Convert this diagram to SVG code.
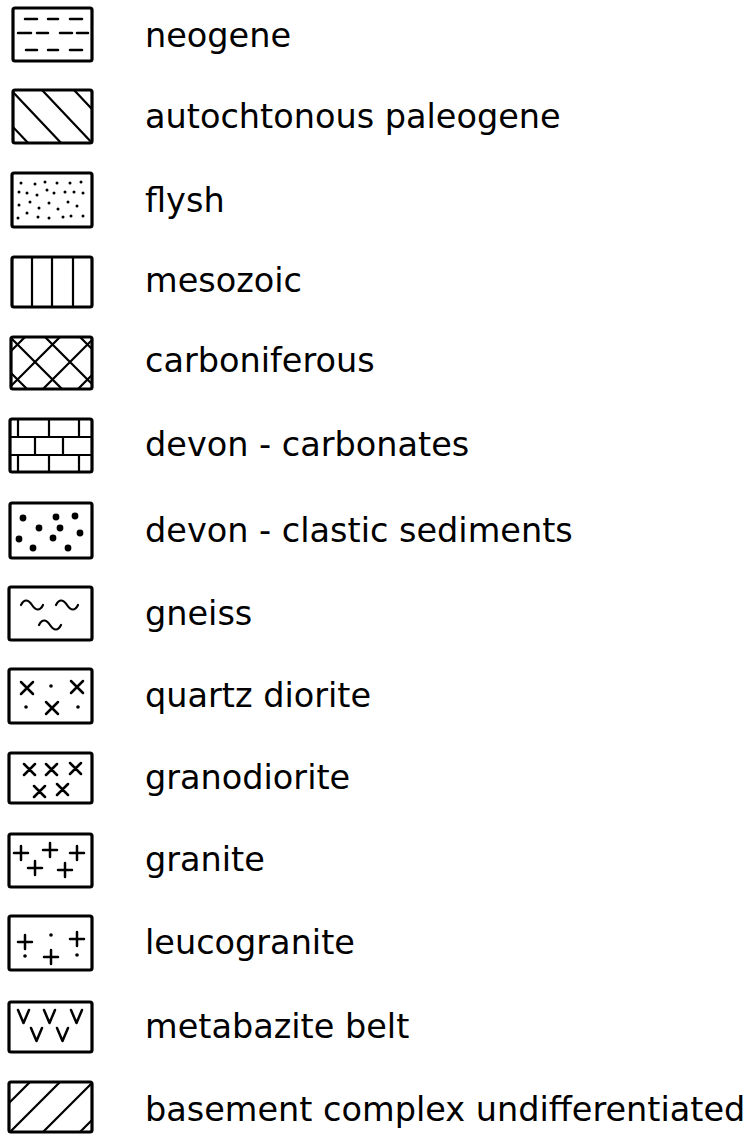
<svg xmlns="http://www.w3.org/2000/svg" width="753" height="1136" viewBox="0 0 753 1136">
<style>
.box{fill:none;stroke:#000;stroke-width:3.2;stroke-linejoin:round}
.ln{fill:none;stroke:#000;stroke-width:2.2;stroke-linecap:round;stroke-linejoin:round}
.sy{fill:none;stroke:#000;stroke-width:2.5;stroke-linecap:round;stroke-linejoin:round}
.lbl{font-family:"DejaVu Sans",sans-serif;font-size:33.5px;fill:#000}
.d{fill:#000}
</style>
<defs>
<clipPath id="c2"><rect x="13" y="90" width="79" height="53"/></clipPath>
<clipPath id="c5"><rect x="11" y="337" width="81" height="52"/></clipPath>
<clipPath id="c14"><rect x="9" y="1082" width="83" height="50"/></clipPath>
<path id="tl" d="M0,0 c3,-6 7,-6 11,0 s8,6 11,0"/>
</defs>
<rect width="753" height="1136" fill="#fff"/>

<g id="neogene">
<rect class="box" x="13" y="8" width="79" height="53" rx="2"/>
<path class="sy" d="M25,19H37M48,19H58M70,19H82M18,33H31M37,33H48M60,33H72M77,33H88M26,50H37M48,50H58M70,50H82"/>
<text class="lbl" x="145" y="47">neogene</text>
</g>

<g id="autochtonous-paleogene">
<g clip-path="url(#c2)">
<path class="ln" d="M-22,90l52,55M11,90l52,55M42,90l52,55M74,90l52,55"/>
</g>
<rect class="box" x="13" y="90" width="79" height="53" rx="2"/>
<text class="lbl" x="145" y="128">autochtonous paleogene</text>
</g>

<g id="flysh">
<rect class="box" x="12" y="173" width="80" height="54" rx="2"/>
<g class="d">
<circle cx="21" cy="183" r="1.5"/><circle cx="35" cy="184" r="1.5"/><circle cx="45" cy="182" r="1.5"/><circle cx="57" cy="183" r="1.5"/><circle cx="70" cy="183" r="1.5"/><circle cx="81" cy="182" r="1.5"/>
<circle cx="19" cy="192" r="1.5"/><circle cx="27" cy="193" r="1.5"/><circle cx="37" cy="195" r="1.5"/><circle cx="47" cy="190" r="1.5"/><circle cx="54" cy="193" r="1.5"/><circle cx="65" cy="192" r="1.5"/><circle cx="74" cy="192" r="1.5"/><circle cx="83" cy="193" r="1.5"/>
<circle cx="19" cy="205" r="1.5"/><circle cx="30" cy="202" r="1.5"/><circle cx="39" cy="208" r="1.5"/><circle cx="49" cy="203" r="1.5"/><circle cx="58" cy="209" r="1.5"/><circle cx="68" cy="202" r="1.5"/><circle cx="77" cy="206" r="1.5"/>
<circle cx="18" cy="218" r="1.5"/><circle cx="27" cy="213" r="1.5"/><circle cx="38" cy="217" r="1.5"/><circle cx="49" cy="218" r="1.5"/><circle cx="63" cy="217" r="1.5"/><circle cx="71" cy="216" r="1.5"/><circle cx="83" cy="216" r="1.5"/>
</g>
<text class="lbl" x="145" y="212">flysh</text>
</g>

<g id="mesozoic">
<rect class="box" x="12" y="257" width="80" height="50" rx="2"/>
<path class="ln" d="M32,257V307M52,257V307M73,257V307"/>
<text class="lbl" x="145" y="292">mesozoic</text>
</g>

<g id="carboniferous">
<g clip-path="url(#c5)">
<path class="ln" d="M0,362L100,262M0,397L100,297M0,432L100,332M0,467L100,367M0,257L100,357M0,292L100,392M0,327L100,427M0,362L100,462"/>
</g>
<rect class="box" x="11" y="337" width="81" height="52" rx="2"/>
<text class="lbl" x="145" y="372">carboniferous</text>
</g>

<g id="devon-carbonates">
<rect class="box" x="10" y="419" width="82" height="53" rx="2"/>
<path class="ln" d="M10,437H92M10,455H92M18,419V437M49,419V437M79,419V437M35,437V455M63,437V455M18,455V472M49,455V472M79,455V472"/>
<text class="lbl" x="145" y="456">devon - carbonates</text>
</g>

<g id="devon-clastic-sediments">
<rect class="box" x="10" y="503" width="82" height="55" rx="2"/>
<g class="d">
<circle cx="23" cy="518" r="3.4"/><circle cx="56" cy="517" r="3.4"/><circle cx="75" cy="516" r="3.4"/>
<circle cx="39" cy="528" r="3.4"/><circle cx="60" cy="528" r="3.4"/><circle cx="80" cy="533" r="3.4"/>
<circle cx="19" cy="539" r="3.4"/><circle cx="53" cy="538" r="3.4"/>
<circle cx="33" cy="548" r="3.4"/><circle cx="68" cy="548" r="3.4"/>
</g>
<text class="lbl" x="145" y="542">devon - clastic sediments</text>
</g>

<g id="gneiss">
<rect class="box" x="9" y="587" width="83" height="53" rx="2"/>
<use href="#tl" class="ln" x="21" y="605"/>
<use href="#tl" class="ln" x="56" y="605"/>
<use href="#tl" class="ln" x="39" y="625"/>
<text class="lbl" x="145" y="625">gneiss</text>
</g>

<g id="quartz-diorite">
<rect class="box" x="9" y="669" width="83" height="54" rx="2"/>
<path class="sy" d="M21,682l12,12M33,682l-12,12M71,681l12,12M83,681l-12,12M46,702l12,12M58,702l-12,12"/>
<g class="d"><circle cx="51" cy="686" r="1.8"/><circle cx="26" cy="707" r="1.8"/><circle cx="78" cy="707" r="1.8"/></g>
<text class="lbl" x="145" y="707">quartz diorite</text>
</g>

<g id="granodiorite">
<rect class="box" x="9" y="753" width="83" height="50" rx="2"/>
<path class="sy" d="M24,764l11,11M35,764l-11,11M46,764l11,11M57,764l-11,11M70,763l11,11M81,763l-11,11M34,786l11,11M45,786l-11,11M57,784l11,11M68,784l-11,11"/>
<text class="lbl" x="145" y="789">granodiorite</text>
</g>

<g id="granite">
<rect class="box" x="9" y="834" width="83" height="53" rx="2"/>
<path class="sy" d="M14,853h14M21,846v14M43,850h14M50,843v14M70,853h14M77,846v14M28,868h14M35,861v14M58,870h14M65,863v14"/>
<text class="lbl" x="145" y="871">granite</text>
</g>

<g id="leucogranite">
<rect class="box" x="9" y="916" width="83" height="54" rx="2"/>
<path class="sy" d="M18,942h14M25,935v14M70,939h14M77,932v14M44,957h14M51,950v14"/>
<g class="d"><circle cx="51" cy="935" r="1.8"/><circle cx="25" cy="956" r="1.8"/><circle cx="77" cy="955" r="1.8"/></g>
<text class="lbl" x="145" y="954">leucogranite</text>
</g>

<g id="metabazite-belt">
<rect class="box" x="9" y="1002" width="83" height="50" rx="2"/>
<path class="sy" d="M18,1010l5.5,13l5.5,-13M44,1010l5.5,13l5.5,-13M71,1010l5.5,13l5.5,-13M31,1028l5.5,13l5.5,-13M57,1028l5.5,13l5.5,-13"/>
<text class="lbl" x="145" y="1038">metabazite belt</text>
</g>

<g id="basement-complex-undifferentiated">
<g clip-path="url(#c14)">
<path class="ln" d="M-20,1132l52,-52M10,1132l52,-52M43,1132l52,-52M80,1132l52,-52"/>
</g>
<rect class="box" x="9" y="1082" width="83" height="50" rx="2"/>
<text class="lbl" x="145" y="1121">basement complex undifferentiated</text>
</g>
</svg>
